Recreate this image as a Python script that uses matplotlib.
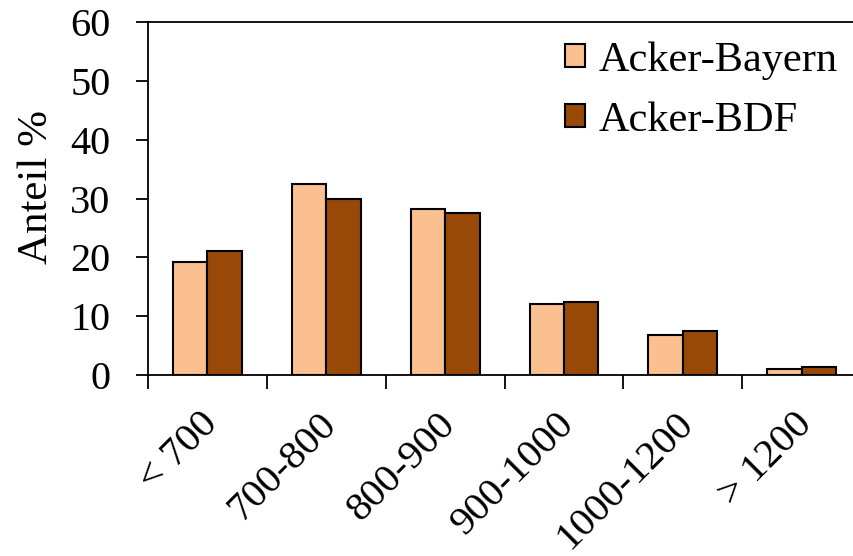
import numpy as np
import matplotlib.pyplot as plt
from matplotlib.ticker import FixedLocator
from matplotlib.transforms import ScaledTranslation

plt.rcParams['font.family'] = ['Liberation Serif', 'DejaVu Serif']

# Daten
kategorien = ['< 700', '700-800', '800-900', '900-1000', '1000-1200', '> 1200']
acker_bayern = [19.2, 32.5, 28.3, 12.0, 6.8, 1.0]
acker_bdf = [21.1, 30.0, 27.5, 12.4, 7.4, 1.3]

hell = '#FAC090'
dunkel = '#984807'

fig = plt.figure(figsize=(8.54, 5.56), dpi=100)
ax = fig.add_axes([0.1733, 0.3255, 0.835, 0.6349])

x = np.arange(len(kategorien))
b = 0.29
ax.bar(x - b/2, acker_bayern, b, color=hell, edgecolor='black', linewidth=1.5, label='Acker-Bayern')
ax.bar(x + b/2, acker_bdf, b, color=dunkel, edgecolor='black', linewidth=1.5, label='Acker-BDF')

ax.set_xlim(-0.5, len(kategorien) - 0.5)
ax.set_ylim(0, 60)
ax.set_yticks(np.arange(0, 61, 10))
ax.set_xticks(x)
ax.xaxis.set_minor_locator(FixedLocator(np.arange(-0.5, len(kategorien), 1)))
ax.tick_params(axis='x', which='major', length=0, pad=22)
ax.tick_params(axis='x', which='minor', length=10, width=1.3, direction='out')
ax.tick_params(axis='y', length=9, width=1.3, direction='out', labelsize=29, pad=18)
ax.set_xticklabels(kategorien, rotation=45, ha='right', va='top', fontsize=29.5)

# Beschriftungen etwas nach rechts schieben (nach tick_params!)
verschiebung = ScaledTranslation(18/100, 0, fig.dpi_scale_trans)
for lab in ax.get_xticklabels():
    lab.set_transform(lab.get_transform() + verschiebung)

for s in ax.spines.values():
    s.set_linewidth(1.3)

ax.set_ylabel('Anteil %', fontsize=31)
ax.yaxis.set_label_coords(-0.129, 0.533)

ax.legend(loc='upper left', bbox_to_anchor=(0.585, 0.946), frameon=False, fontsize=30.5,
          handlelength=0.47, handleheight=0.47, handletextpad=0.31, labelspacing=0.51,
          borderpad=0, borderaxespad=0)

fig.savefig('out.png', dpi=100)
